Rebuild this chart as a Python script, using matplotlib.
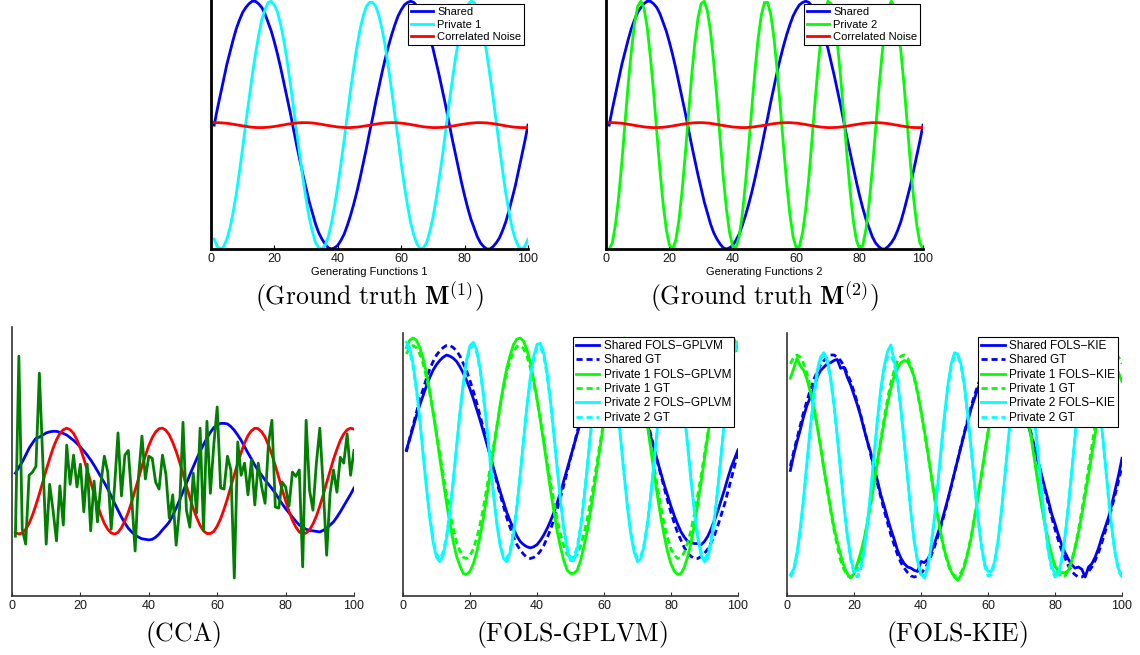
import matplotlib
matplotlib.use('Agg')
import matplotlib.pyplot as plt

plt.rcParams['font.family'] = ['Liberation Sans', 'DejaVu Sans']
plt.rcParams['mathtext.fontset'] = 'cm'

# sample index 1..100
t = list(range(1, 101))

# ground truth generating functions (top row)
shared = [0.00, 0.13, 0.25, 0.37, 0.49, 0.59, 0.69, 0.78, 0.85, 0.91,
          0.95, 0.98, 1.00, 1.00, 0.98, 0.95, 0.90, 0.83, 0.76, 0.67,
          0.57, 0.46, 0.34, 0.22, 0.10, -0.03, -0.16, -0.28, -0.40, -0.51,
          -0.62, -0.71, -0.80, -0.87, -0.92, -0.96, -0.99, -1.00, -0.99, -0.97,
          -0.93, -0.88, -0.81, -0.73, -0.64, -0.54, -0.43, -0.31, -0.19, -0.06,
          0.06, 0.19, 0.31, 0.43, 0.54, 0.64, 0.73, 0.81, 0.88, 0.93,
          0.97, 0.99, 1.00, 0.99, 0.96, 0.92, 0.87, 0.80, 0.71, 0.62,
          0.51, 0.40, 0.28, 0.16, 0.03, -0.10, -0.22, -0.34, -0.46, -0.57,
          -0.67, -0.76, -0.83, -0.90, -0.95, -0.98, -1.00, -1.00, -0.98, -0.95,
          -0.91, -0.85, -0.78, -0.69, -0.59, -0.49, -0.37, -0.25, -0.13, 0.00]

private1 = [-0.92, -0.98, -1.00, -0.98, -0.92, -0.83, -0.70, -0.55, -0.37, -0.18,
            0.02, 0.21, 0.40, 0.57, 0.72, 0.85, 0.93, 0.99, 1.00, 0.97,
            0.91, 0.81, 0.68, 0.52, 0.34, 0.15, -0.05, -0.24, -0.43, -0.60,
            -0.75, -0.86, -0.95, -0.99, -1.00, -0.97, -0.90, -0.79, -0.65, -0.49,
            -0.31, -0.12, 0.08, 0.28, 0.46, 0.63, 0.77, 0.88, 0.96, 0.99,
            0.99, 0.96, 0.88, 0.77, 0.63, 0.46, 0.28, 0.08, -0.11, -0.31,
            -0.49, -0.65, -0.79, -0.89, -0.96, -1.00, -0.99, -0.95, -0.86, -0.75,
            -0.60, -0.43, -0.25, -0.05, 0.15, 0.34, 0.52, 0.68, 0.81, 0.91,
            0.97, 1.00, 0.99, 0.94, 0.85, 0.73, 0.58, 0.40, 0.22, 0.02,
            -0.18, -0.37, -0.55, -0.70, -0.83, -0.92, -0.98, -1.00, -0.98, -0.92]

private2 = [-1.00, -0.95, -0.80, -0.58, -0.30, 0.02, 0.33, 0.60, 0.82, 0.96,
            1.00, 0.94, 0.79, 0.55, 0.27, -0.05, -0.36, -0.63, -0.84, -0.97,
            -1.00, -0.93, -0.77, -0.53, -0.24, 0.08, 0.39, 0.66, 0.86, 0.98,
            1.00, 0.92, 0.75, 0.50, 0.21, -0.11, -0.42, -0.68, -0.87, -0.98,
            -0.99, -0.90, -0.72, -0.47, -0.17, 0.14, 0.44, 0.70, 0.89, 0.99,
            0.99, 0.89, 0.70, 0.44, 0.14, -0.17, -0.47, -0.72, -0.90, -0.99,
            -0.98, -0.87, -0.68, -0.42, -0.11, 0.21, 0.50, 0.75, 0.92, 1.00,
            0.98, 0.86, 0.66, 0.39, 0.08, -0.24, -0.53, -0.77, -0.93, -1.00,
            -0.97, -0.84, -0.63, -0.36, -0.05, 0.27, 0.55, 0.79, 0.94, 1.00,
            0.96, 0.82, 0.60, 0.33, 0.02, -0.30, -0.58, -0.80, -0.95, -1.00]

noise = [0.020, 0.020, 0.019, 0.017, 0.015, 0.011, 0.007, 0.003, -0.002, -0.006,
         -0.010, -0.014, -0.017, -0.019, -0.020, -0.020, -0.019, -0.017, -0.014, -0.011,
         -0.007, -0.002, 0.002, 0.007, 0.011, 0.014, 0.017, 0.019, 0.020, 0.020,
         0.019, 0.017, 0.014, 0.010, 0.006, 0.001, -0.003, -0.007, -0.011, -0.015,
         -0.017, -0.019, -0.020, -0.020, -0.018, -0.016, -0.013, -0.009, -0.005, -0.001,
         0.004, 0.008, 0.012, 0.015, 0.018, 0.019, 0.020, 0.020, 0.018, 0.016,
         0.013, 0.009, 0.005, 0.000, -0.004, -0.009, -0.013, -0.016, -0.018, -0.020,
         -0.020, -0.019, -0.018, -0.015, -0.012, -0.008, -0.004, 0.001, 0.005, 0.009,
         0.013, 0.016, 0.018, 0.020, 0.020, 0.019, 0.018, 0.015, 0.012, 0.008,
         0.003, -0.001, -0.006, -0.010, -0.014, -0.017, -0.019, -0.020, -0.020, -0.019]

# ground truth as it appears (sign-aligned) in the bottom row
private1_gt = [0.92, 0.98, 1.00, 0.98, 0.92, 0.83, 0.70, 0.55, 0.37, 0.18,
               -0.02, -0.21, -0.40, -0.57, -0.72, -0.85, -0.93, -0.99, -1.00, -0.97,
               -0.91, -0.81, -0.68, -0.52, -0.34, -0.15, 0.05, 0.24, 0.43, 0.60,
               0.75, 0.86, 0.95, 0.99, 1.00, 0.97, 0.90, 0.79, 0.65, 0.49,
               0.31, 0.12, -0.08, -0.28, -0.46, -0.63, -0.77, -0.88, -0.96, -0.99,
               -0.99, -0.96, -0.88, -0.77, -0.63, -0.46, -0.28, -0.08, 0.11, 0.31,
               0.49, 0.65, 0.79, 0.89, 0.96, 1.00, 0.99, 0.95, 0.86, 0.75,
               0.60, 0.43, 0.25, 0.05, -0.15, -0.34, -0.52, -0.68, -0.81, -0.91,
               -0.97, -1.00, -0.99, -0.94, -0.85, -0.73, -0.58, -0.40, -0.22, -0.02,
               0.18, 0.37, 0.55, 0.70, 0.83, 0.92, 0.98, 1.00, 0.98, 0.92]

private2_gt_gplvm = [1.00, 0.95, 0.80, 0.58, 0.30, -0.02, -0.33, -0.60, -0.82, -0.96,
                     -1.00, -0.94, -0.79, -0.55, -0.27, 0.05, 0.36, 0.63, 0.84, 0.97,
                     1.00, 0.93, 0.77, 0.53, 0.24, -0.08, -0.39, -0.66, -0.86, -0.98,
                     -1.00, -0.92, -0.75, -0.50, -0.21, 0.11, 0.42, 0.68, 0.87, 0.98,
                     0.99, 0.90, 0.72, 0.47, 0.17, -0.14, -0.44, -0.70, -0.89, -0.99,
                     -0.99, -0.89, -0.70, -0.44, -0.14, 0.17, 0.47, 0.72, 0.90, 0.99,
                     0.98, 0.87, 0.68, 0.42, 0.11, -0.21, -0.50, -0.75, -0.92, -1.00,
                     -0.98, -0.86, -0.66, -0.39, -0.08, 0.24, 0.53, 0.77, 0.93, 1.00,
                     0.97, 0.84, 0.63, 0.36, 0.05, -0.27, -0.55, -0.79, -0.94, -1.00,
                     -0.96, -0.82, -0.60, -0.33, -0.02, 0.30, 0.58, 0.80, 0.95, 1.00]

# CCA recovered components
cca_blue = [0.15, 0.26, 0.36, 0.49, 0.62, 0.72, 0.81, 0.83, 0.87, 0.91,
            0.93, 0.94, 0.94, 0.92, 0.90, 0.87, 0.82, 0.77, 0.71, 0.64,
            0.57, 0.49, 0.40, 0.30, 0.19, 0.08, -0.03, -0.15, -0.28, -0.42,
            -0.55, -0.68, -0.79, -0.89, -0.96, -1.02, -1.06, -1.09, -1.10, -1.11,
            -1.10, -1.06, -1.00, -0.92, -0.85, -0.77, -0.65, -0.51, -0.36, -0.20,
            -0.04, 0.12, 0.27, 0.42, 0.56, 0.69, 0.81, 0.92, 1.01, 1.06,
            1.09, 1.09, 1.08, 1.03, 0.96, 0.87, 0.77, 0.65, 0.53, 0.42,
            0.30, 0.20, 0.11, 0.02, -0.06, -0.14, -0.23, -0.33, -0.43, -0.52,
            -0.60, -0.68, -0.76, -0.83, -0.87, -0.91, -0.93, -0.94, -0.95, -0.96,
            -0.93, -0.89, -0.83, -0.77, -0.68, -0.58, -0.47, -0.36, -0.25, -0.13]

cca_red = [-0.97, -1.00, -0.98, -0.91, -0.80, -0.64, -0.45, -0.24, -0.02, 0.21,
           0.42, 0.62, 0.78, 0.90, 0.97, 1.00, 0.97, 0.90, 0.78, 0.62,
           0.42, 0.21, -0.02, -0.24, -0.45, -0.64, -0.80, -0.91, -0.98, -1.00,
           -0.97, -0.88, -0.75, -0.59, -0.39, -0.17, 0.05, 0.28, 0.48, 0.67,
           0.82, 0.93, 0.99, 1.00, 0.96, 0.87, 0.73, 0.56, 0.36, 0.14,
           -0.09, -0.31, -0.52, -0.69, -0.84, -0.94, -0.99, -0.99, -0.95, -0.85,
           -0.71, -0.53, -0.33, -0.10, 0.12, 0.34, 0.54, 0.72, 0.86, 0.95,
           1.00, 0.99, 0.93, 0.83, 0.68, 0.50, 0.29, 0.07, -0.16, -0.37,
           -0.57, -0.74, -0.87, -0.96, -1.00, -0.98, -0.92, -0.81, -0.66, -0.47,
           -0.26, -0.03, 0.19, 0.41, 0.60, 0.77, 0.89, 0.97, 1.00, 0.98]

cca_green = [-1.04, 2.36, -0.91, -1.19, 0.11, 0.17, 0.28, 2.04, 0.40, -1.19,
             -0.06, -0.55, -1.13, -0.09, -0.83, 0.68, -0.06, 0.49, -0.11, 0.32,
             -0.58, 0.32, -0.94, 0.00, -0.77, -0.04, 0.47, 0.17, -0.91, -0.09,
             0.91, -0.28, 0.49, 0.58, -0.32, -1.32, 0.08, 0.85, 0.04, 0.47,
             0.43, -0.02, -0.15, 0.49, 0.13, -0.70, -0.26, -1.21, -0.51, 1.11,
             -0.55, -0.87, 0.15, -0.60, 1.00, -0.92, 1.13, -0.23, 0.68, 1.40,
             -0.13, -0.15, 0.47, 0.21, -1.83, 0.74, 0.11, 0.34, -0.26, 0.40,
             -0.45, 0.34, -0.11, -0.42, 0.72, 1.15, -0.49, -0.51, -0.02, -0.11,
             -0.47, 0.17, 0.09, 0.21, -1.62, 1.15, -0.17, -0.55, 0.34, 1.00,
             -0.11, -1.40, -0.23, 0.21, -0.21, 0.45, 0.34, 0.89, 0.11, 0.58]

# FOLS-GPLVM estimates
gplvm_shared = [0.02, 0.12, 0.23, 0.34, 0.44, 0.53, 0.62, 0.70, 0.77, 0.82,
                0.86, 0.89, 0.91, 0.90, 0.88, 0.85, 0.80, 0.74, 0.67, 0.59,
                0.50, 0.40, 0.30, 0.19, 0.08, -0.03, -0.15, -0.26, -0.37, -0.47,
                -0.57, -0.65, -0.72, -0.79, -0.84, -0.87, -0.89, -0.90, -0.89, -0.87,
                -0.83, -0.78, -0.72, -0.65, -0.57, -0.48, -0.38, -0.27, -0.16, -0.05,
                0.06, 0.17, 0.28, 0.38, 0.49, 0.58, 0.66, 0.73, 0.79, 0.84,
                0.88, 0.90, 0.91, 0.90, 0.87, 0.83, 0.78, 0.72, 0.64, 0.56,
                0.46, 0.36, 0.25, 0.14, 0.03, -0.09, -0.20, -0.31, -0.41, -0.51,
                -0.60, -0.68, -0.75, -0.80, -0.84, -0.85, -0.86, -0.86, -0.87, -0.84,
                -0.79, -0.72, -0.64, -0.55, -0.45, -0.35, -0.24, -0.14, -0.06, 0.02]

gplvm_private1 = [0.98, 1.05, 1.07, 1.05, 0.98, 0.88, 0.74, 0.57, 0.37, 0.16,
                  -0.06, -0.27, -0.48, -0.67, -0.84, -0.98, -1.07, -1.14, -1.15, -1.12,
                  -1.05, -0.94, -0.79, -0.62, -0.42, -0.21, 0.02, 0.23, 0.44, 0.63,
                  0.79, 0.91, 1.01, 1.06, 1.07, 1.04, 0.96, 0.84, 0.68, 0.50,
                  0.30, 0.09, -0.13, -0.35, -0.55, -0.74, -0.89, -1.02, -1.11, -1.14,
                  -1.14, -1.11, -1.02, -0.89, -0.74, -0.55, -0.35, -0.13, 0.08, 0.30,
                  0.50, 0.68, 0.84, 0.95, 1.03, 1.07, 1.06, 1.01, 0.91, 0.79,
                  0.63, 0.44, 0.24, 0.02, -0.21, -0.42, -0.62, -0.79, -0.94, -1.05,
                  -1.12, -1.15, -1.14, -1.08, -0.98, -0.85, -0.68, -0.48, -0.28, -0.06,
                  0.16, 0.37, 0.57, 0.74, 0.88, 0.98, 1.05, 1.07, 1.05, 0.98]

gplvm_private2 = [1.03, 0.98, 0.83, 0.60, 0.31, -0.02, -0.34, -0.62, -0.85, -0.99,
                  -1.03, -0.97, -0.81, -0.57, -0.27, 0.05, 0.37, 0.65, 0.87, 1.00,
                  1.03, 0.96, 0.79, 0.54, 0.24, -0.08, -0.40, -0.67, -0.88, -1.00,
                  -1.03, -0.94, -0.77, -0.52, -0.21, 0.11, 0.43, 0.70, 0.90, 1.01,
                  1.02, 0.93, 0.75, 0.49, 0.18, -0.15, -0.46, -0.72, -0.92, -1.02,
                  -1.02, -0.92, -0.72, -0.46, -0.15, 0.18, 0.49, 0.75, 0.93, 1.02,
                  1.01, 0.90, 0.70, 0.43, 0.11, -0.21, -0.52, -0.77, -0.94, -1.03,
                  -1.00, -0.88, -0.67, -0.40, -0.08, 0.24, 0.54, 0.79, 0.96, 1.03,
                  1.00, 0.87, 0.65, 0.37, 0.05, -0.27, -0.57, -0.81, -0.97, -1.03,
                  -0.99, -0.85, -0.62, -0.34, -0.02, 0.31, 0.60, 0.83, 0.98, 1.03]

# FOLS-KIE estimates
kie_shared = [-0.04, 0.10, 0.22, 0.33, 0.45, 0.55, 0.62, 0.70, 0.80, 0.86,
              0.89, 0.92, 0.93, 0.95, 0.96, 0.88, 0.89, 0.80, 0.73, 0.64,
              0.55, 0.45, 0.33, 0.22, 0.12, -0.02, -0.13, -0.26, -0.36, -0.47,
              -0.57, -0.66, -0.76, -0.83, -0.88, -0.91, -0.92, -0.94, -0.95, -0.86,
              -0.87, -0.84, -0.78, -0.70, -0.61, -0.52, -0.41, -0.30, -0.18, -0.06,
              0.06, 0.18, 0.30, 0.41, 0.52, 0.61, 0.70, 0.77, 0.84, 0.88,
              0.92, 0.94, 0.95, 0.94, 0.91, 0.87, 0.82, 0.75, 0.67, 0.58,
              0.48, 0.37, 0.26, 0.15, 0.04, -0.08, -0.20, -0.31, -0.43, -0.52,
              -0.62, -0.71, -0.78, -0.84, -0.89, -0.92, -0.91, -0.93, -1.00, -0.91,
              -0.88, -0.82, -0.74, -0.64, -0.55, -0.46, -0.34, -0.21, -0.08, 0.07]

kie_private1 = [0.79, 0.88, 0.97, 0.90, 0.86, 0.78, 0.66, 0.52, 0.36, 0.18,
                -0.02, -0.20, -0.38, -0.55, -0.68, -0.80, -0.90, -0.97, -1.01, -0.97,
                -0.88, -0.78, -0.66, -0.50, -0.33, -0.15, 0.04, 0.22, 0.40, 0.56,
                0.70, 0.81, 0.88, 0.93, 0.95, 0.94, 0.88, 0.80, 0.66, 0.50,
                0.32, 0.13, -0.07, -0.27, -0.45, -0.62, -0.76, -0.86, -0.95, -1.00,
                -1.03, -0.98, -0.90, -0.78, -0.64, -0.46, -0.28, -0.09, 0.11, 0.30,
                0.48, 0.64, 0.77, 0.87, 0.94, 0.97, 0.96, 0.92, 0.84, 0.73,
                0.58, 0.41, 0.23, 0.03, -0.17, -0.36, -0.53, -0.68, -0.80, -0.90,
                -0.95, -0.96, -0.96, -0.94, -0.86, -0.74, -0.60, -0.44, -0.26, -0.08,
                0.11, 0.29, 0.46, 0.60, 0.72, 0.82, 0.88, 0.89, 0.84, 0.76]

kie_private2 = [-0.98, -0.93, -0.78, -0.55, -0.27, 0.05, 0.36, 0.64, 0.86, 0.98,
                1.02, 0.96, 0.80, 0.56, 0.27, -0.05, -0.36, -0.62, -0.82, -0.95,
                -0.94, -0.92, -0.76, -0.52, -0.22, 0.10, 0.42, 0.70, 0.90, 1.03,
                1.09, 0.95, 0.77, 0.52, 0.22, -0.10, -0.42, -0.68, -0.86, -0.97,
                -1.01, -0.92, -0.73, -0.47, -0.16, 0.16, 0.46, 0.72, 0.92, 1.02,
                1.01, 0.91, 0.72, 0.45, 0.15, -0.16, -0.46, -0.71, -0.88, -0.95,
                -0.95, -0.86, -0.67, -0.41, -0.10, 0.22, 0.52, 0.77, 0.94, 1.02,
                1.00, 0.88, 0.67, 0.40, 0.09, -0.23, -0.52, -0.76, -0.91, -0.97,
                -0.98, -0.84, -0.63, -0.36, -0.05, 0.27, 0.56, 0.80, 0.95, 1.01,
                0.97, 0.83, 0.61, 0.34, 0.03, -0.29, -0.57, -0.79, -0.93, -0.99]

xticks = [0, 20, 40, 60, 80, 100]

W, H = 1140, 655
fig = plt.figure(figsize=(W / 100, H / 100), dpi=100)


def add_axes(l, t, r, b):
    # pixel box (left, top, right, bottom) -> figure fraction
    return fig.add_axes([l / W, 1 - b / H, (r - l) / W, (b - t) / H])


def style(ax, ylim, col, lw):
    ax.set_xlim(0, 100)
    ax.set_ylim(*ylim)
    ax.set_xticks(xticks)
    ax.set_yticks([])
    ax.patch.set_alpha(0)
    for s in ['top', 'right']:
        ax.spines[s].set_visible(False)
    for s in ['left', 'bottom']:
        ax.spines[s].set_color(col)
        ax.spines[s].set_linewidth(lw)
    ax.tick_params(axis='x', direction='in', length=3, width=0.8, color=col,
                   labelsize=9, pad=3, labelcolor='#1a1a1a')


def legend(ax, xr, yt, fs, sp):
    leg = ax.legend(loc='upper right', bbox_to_anchor=(xr / W, 1 - yt / H),
                    bbox_transform=fig.transFigure, fontsize=fs, borderaxespad=0,
                    fancybox=False, framealpha=1, edgecolor='black', borderpad=0.25,
                    handlelength=2.0, handletextpad=0.35, labelspacing=sp)
    leg.get_frame().set_linewidth(0.8)


def caption(xc, yc, s):
    fig.text(xc / W, 1 - yc / H, s, ha='center', va='center', fontsize=18.5)


LW = 2.0
BLUE, CYAN, GREEN, RED = (0, 0, 1), (0, 1, 1), (0, 1, 0), (1, 0, 0)

# --- ground truth M(1)
ax1 = add_axes(211, 0, 528, 249)
ax1.plot(t, shared, color=BLUE, lw=LW, label='Shared')
ax1.plot(t, private1, color=CYAN, lw=LW, label='Private 1')
ax1.plot(t, noise, color=RED, lw=LW, label='Correlated Noise')
style(ax1, (-1.0, 1.01), 'black', 2.0)
ax1.set_xlabel('Generating Functions 1', fontsize=8, labelpad=1)
legend(ax1, 524, 4, 8, 0.25)
caption(370, 297, r'$\mathrm{(Ground\ truth\ }\mathbf{M}^{(1)}\mathrm{)}$')

# --- ground truth M(2)
ax2 = add_axes(606, 0, 923, 249)
ax2.plot(t, shared, color=BLUE, lw=LW, label='Shared')
ax2.plot(t, private2, color=GREEN, lw=LW, label='Private 2')
ax2.plot(t, noise, color=RED, lw=LW, label='Correlated Noise')
style(ax2, (-1.0, 1.01), 'black', 2.0)
ax2.set_xlabel('Generating Functions 2', fontsize=8, labelpad=1)
legend(ax2, 920, 4, 8, 0.25)
caption(765, 297, r'$\mathrm{(Ground\ truth\ }\mathbf{M}^{(2)}\mathrm{)}$')

# --- CCA
ax3 = add_axes(12, 327, 354, 596)
ax3.plot(t, cca_blue, color=BLUE, lw=LW)
ax3.plot(t, cca_red, color=RED, lw=LW)
ax3.plot(t, cca_green, color='#007f00', lw=LW)
style(ax3, (-2.17, 2.91), '#333333', 1.2)
caption(183, 635, r'$\mathrm{(CCA)}$')

DASH = (0, (2.2, 1.4))

# --- FOLS-GPLVM
ax4 = add_axes(403, 333, 738, 596)
ax4.plot(t, gplvm_shared, color=BLUE, lw=LW, label='Shared FOLS\u2212GPLVM')
ax4.plot(t, shared, color=BLUE, lw=LW, ls=DASH, label='Shared GT')
ax4.plot(t, gplvm_private1, color=GREEN, lw=LW, label='Private 1 FOLS\u2212GPLVM')
ax4.plot(t, private1_gt, color=GREEN, lw=LW, ls=DASH, label='Private 1 GT')
ax4.plot(t, gplvm_private2, color=CYAN, lw=LW, label='Private 2 FOLS\u2212GPLVM')
ax4.plot(t, private2_gt_gplvm, color=CYAN, lw=LW, ls=DASH, label='Private 2 GT')
style(ax4, (-1.352, 1.117), '#333333', 1.2)
legend(ax4, 734, 337, 8.5, 0.2)
caption(572, 635, r'$\mathrm{(FOLS\text{-}GPLVM)}$')

# --- FOLS-KIE
ax5 = add_axes(787, 333, 1122, 596)
ax5.plot(t, kie_shared, color=BLUE, lw=LW, label='Shared FOLS\u2212KIE')
ax5.plot(t, shared, color=BLUE, lw=LW, ls=DASH, label='Shared GT')
ax5.plot(t, kie_private1, color=GREEN, lw=LW, label='Private 1 FOLS\u2212KIE')
ax5.plot(t, private1_gt, color=GREEN, lw=LW, ls=DASH, label='Private 1 GT')
ax5.plot(t, kie_private2, color=CYAN, lw=LW, label='Private 2 FOLS\u2212KIE')
ax5.plot(t, private2, color=CYAN, lw=LW, ls=DASH, label='Private 2 GT')
style(ax5, (-1.171, 1.198), '#333333', 1.2)
legend(ax5, 1118, 337, 8.5, 0.2)
caption(957, 635, r'$\mathrm{(FOLS\text{-}KIE)}$')

fig.savefig('out.png', dpi=100)
